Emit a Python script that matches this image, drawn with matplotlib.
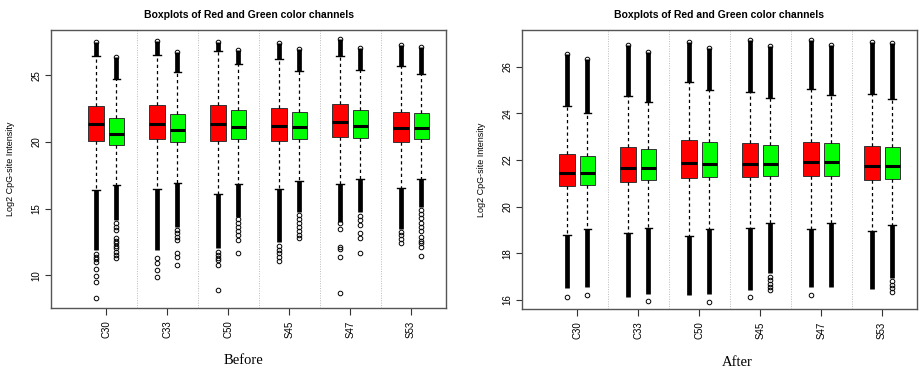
import matplotlib
matplotlib.use("Agg")
import matplotlib.pyplot as plt

plt.rcParams['font.family'] = ['Liberation Sans', 'DejaVu Sans']

samples = ["C30", "C33", "C50", "S45", "S47", "S53"]

# ---------------- Before ----------------
before_red_locap = [16.40, 16.47, 16.07, 16.45, 16.83, 16.52]
before_red_q1 = [20.10, 20.23, 20.10, 20.05, 20.35, 20.02]
before_red_med = [21.33, 21.37, 21.33, 21.22, 21.48, 21.05]
before_red_q3 = [22.68, 22.78, 22.78, 22.53, 22.83, 22.28]
before_red_hicap = [26.43, 26.55, 26.80, 26.23, 26.43, 25.68]
before_red_himax = [27.50, 27.60, 27.50, 27.45, 27.73, 27.28]
before_red_lodense = [11.90, 11.90, 12.03, 12.50, 14.03, 13.45]
before_red_sparse = [
    [11.6, 11.4, 11.2, 11.0, 10.45, 9.97, 9.52, 8.32],
    [11.27, 10.9, 10.4, 9.85],
    [11.77, 11.5, 11.27, 11.15, 10.77, 8.9],
    [12.2, 11.9, 11.65, 11.4, 11.07],
    [13.9, 13.47, 12.15, 11.97, 11.37, 8.65],
    [13.27, 13.0, 12.7, 12.4],
]

before_green_locap = [16.80, 16.92, 16.83, 17.10, 17.22, 17.22]
before_green_q1 = [19.75, 19.97, 20.20, 20.20, 20.30, 20.20]
before_green_med = [20.60, 20.93, 21.15, 21.10, 21.22, 21.05]
before_green_q3 = [21.78, 22.10, 22.43, 22.25, 22.38, 22.18]
before_green_hicap = [24.75, 25.23, 25.87, 25.30, 25.43, 25.12]
before_green_himax = [26.38, 26.73, 26.90, 26.98, 27.03, 27.10]
before_green_lodense = [14.15, 13.65, 14.40, 14.77, 14.77, 15.15]
before_green_sparse = [
    [13.9, 13.65, 13.4, 12.8, 12.6, 12.4, 12.2, 12.03, 11.77, 11.52, 11.27],
    [13.4, 13.15, 12.9, 12.65, 11.65, 11.4, 10.77],
    [14.2, 13.9, 13.6, 13.3, 13.0, 12.65, 11.7],
    [14.5, 14.2, 13.9, 13.6, 13.3, 13.0, 12.78],
    [14.45, 14.15, 13.77, 13.15, 12.78, 11.65],
    [14.9, 14.6, 14.3, 13.9, 13.6, 13.3, 12.9, 12.6, 12.4, 12.15, 11.47],
]

# ---------------- After ----------------
after_red_locap = [18.79, 18.88, 18.74, 19.10, 19.04, 18.97]
after_red_q1 = [20.89, 21.04, 21.21, 21.26, 21.29, 21.14]
after_red_med = [21.43, 21.64, 21.86, 21.81, 21.90, 21.76]
after_red_q3 = [22.26, 22.57, 22.86, 22.71, 22.79, 22.61]
after_red_hicap = [24.31, 24.76, 25.36, 24.90, 25.03, 24.81]
after_red_himax = [26.53, 26.92, 27.04, 27.14, 27.14, 27.07]
after_red_lodense = [16.50, 16.14, 16.21, 16.43, 16.57, 16.47]
after_red_sparse = [[16.11], [], [], [16.14], [16.21], []]

after_green_locap = [19.04, 19.07, 19.03, 19.31, 19.29, 19.21]
after_green_q1 = [20.92, 21.13, 21.26, 21.31, 21.33, 21.19]
after_green_med = [21.43, 21.64, 21.81, 21.81, 21.90, 21.76]
after_green_q3 = [22.17, 22.47, 22.76, 22.64, 22.71, 22.57]
after_green_hicap = [24.03, 24.49, 25.00, 24.67, 24.79, 24.60]
after_green_himax = [26.34, 26.64, 26.81, 26.89, 26.93, 27.00]
after_green_lodense = [16.57, 16.26, 16.26, 17.14, 16.57, 16.93]
after_green_sparse = [[16.21], [15.96], [15.93], [17.0, 16.85, 16.7, 16.55, 16.43], [],
                      [16.8, 16.65, 16.5, 16.36]]

before_yticks = [10, 15, 20, 25]
after_yticks = [16, 18, 20, 22, 24, 26]

title = "Boxplots of Red and Green color channels"
ylabel = "Log2 CpG-site Intensity"

W, H = 919, 372
fig = plt.figure(figsize=(W / 100, H / 100), dpi=100)
ax1 = fig.add_axes([51 / W, 1 - 308 / H, 395 / W, 278 / H])
ax2 = fig.add_axes([522 / W, 1 - 309 / H, 395 / W, 279 / H])


def draw_group(ax, pos, color, locap, q1, med, q3, hicap, himax, lodense, sparse):
    stats = []
    for i in range(len(samples)):
        stats.append(dict(med=med[i], q1=q1[i], q3=q3[i], whislo=locap[i],
                          whishi=hicap[i], fliers=list(sparse[i]) + [himax[i]]))
    ax.bxp(stats, positions=pos, widths=0.75, patch_artist=True,
           boxprops=dict(facecolor=color, edgecolor='#333333', linewidth=0.7),
           whiskerprops=dict(color='black', linewidth=0.9, linestyle=(0, (2.6, 2.4))),
           capprops=dict(color='black', linewidth=1.0),
           medianprops=dict(color='black', linewidth=2.2, solid_capstyle='butt'),
           flierprops=dict(marker='o', markerfacecolor='none', markeredgecolor='black',
                           markersize=3.3, markeredgewidth=0.7),
           manage_ticks=False, zorder=3)
    # dense runs of overlapping outlier circles
    ax.vlines(pos, hicap, himax, colors='black', linewidth=3.4, zorder=2)
    ax.vlines(pos, lodense, locap, colors='black', linewidth=3.4, zorder=2)


def panel(ax, red, green, yticks, ylim, xlabel, xlab_pos):
    red_pos = [3 * i + 1 for i in range(len(samples))]
    green_pos = [3 * i + 2 for i in range(len(samples))]
    draw_group(ax, red_pos, '#FF0000', *red)
    draw_group(ax, green_pos, '#00FF00', *green)
    for s in range(1, len(samples)):
        ax.axvline(3 * s, color='#BBBBBB', linestyle=(0, (1, 1.5)), linewidth=0.7, zorder=1)
    ax.set_xlim(-1.22, 18.22)
    ax.set_ylim(*ylim)
    ax.set_xticks([3 * i + 1.5 for i in range(len(samples))])
    ax.set_xticklabels(samples, rotation=90, fontsize=7)
    ax.set_yticks(yticks)
    ax.set_yticklabels([str(t) for t in yticks], rotation=90, va='center', fontsize=7)
    ax.tick_params(axis='x', length=5, width=0.8, pad=4, color='#333333')
    ax.tick_params(axis='y', length=4, width=0.8, pad=3, color='#333333')
    for sp in ax.spines.values():
        sp.set_color('#555555')
        sp.set_linewidth(1.0)
    ax.set_ylabel(ylabel, fontsize=6.5)
    ax.yaxis.set_label_coords(-0.09, 0.5)
    bb = ax.get_position()
    fig.text((bb.x0 + bb.x1) / 2, 1 - 15 / H, title, ha='center', va='center',
             fontsize=7.5, fontweight='bold')
    fig.text(xlab_pos[0], xlab_pos[1], xlabel, ha='center', va='center',
             fontsize=10.5, family='Liberation Serif')


panel(ax1,
      (before_red_locap, before_red_q1, before_red_med, before_red_q3,
       before_red_hicap, before_red_himax, before_red_lodense, before_red_sparse),
      (before_green_locap, before_green_q1, before_green_med, before_green_q3,
       before_green_hicap, before_green_himax, before_green_lodense, before_green_sparse),
      before_yticks, (7.55, 28.4), "Before", (243 / W, 1 - 361 / H))

panel(ax2,
      (after_red_locap, after_red_q1, after_red_med, after_red_q3,
       after_red_hicap, after_red_himax, after_red_lodense, after_red_sparse),
      (after_green_locap, after_green_q1, after_green_med, after_green_q3,
       after_green_hicap, after_green_himax, after_green_lodense, after_green_sparse),
      after_yticks, (15.61, 27.57), "After", (737 / W, 1 - 363 / H))

fig.savefig("out.png", dpi=100)
